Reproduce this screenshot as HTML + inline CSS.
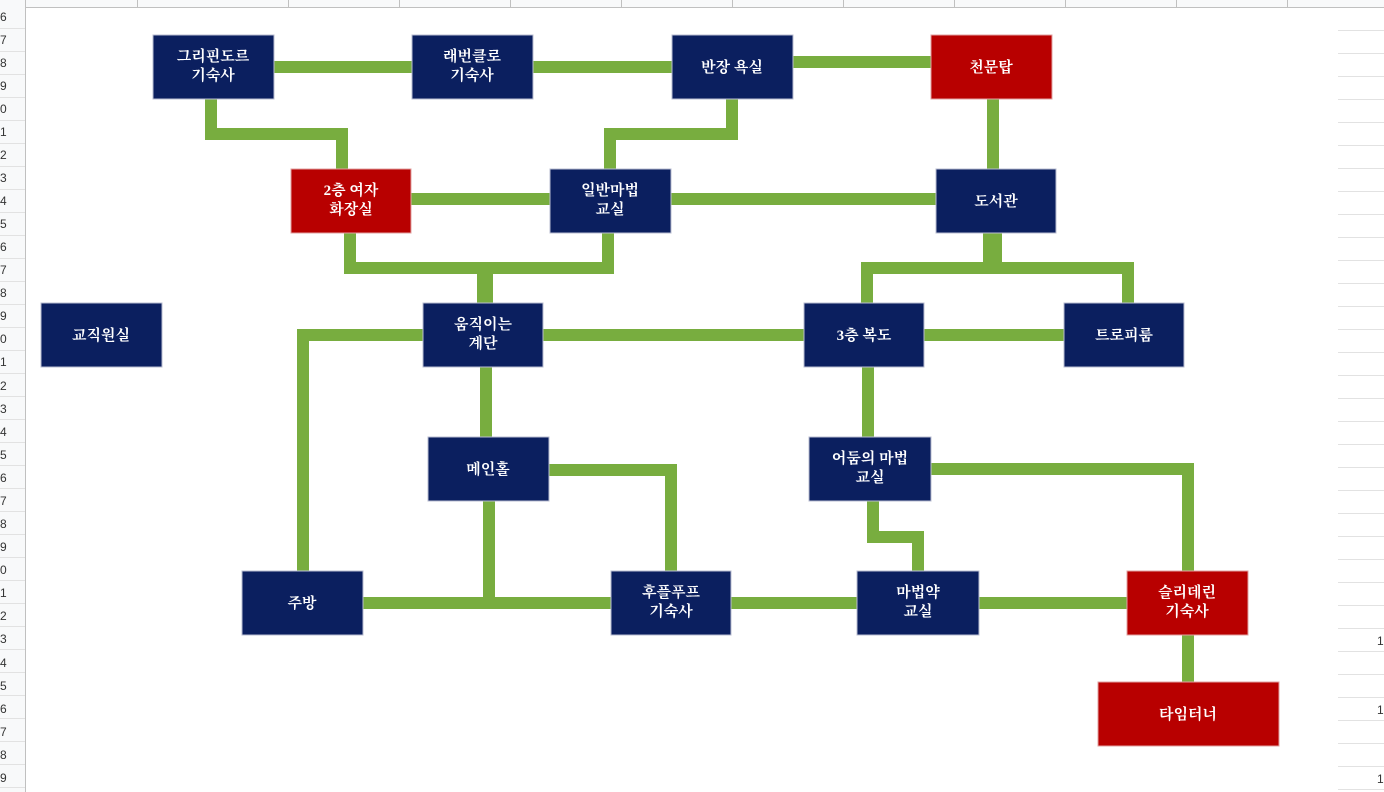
<!DOCTYPE html>
<html><head><meta charset="utf-8"><style>
html,body{margin:0;padding:0;background:#fff;width:1384px;height:792px;overflow:hidden}
svg{display:block}
.t{font-family:"Liberation Serif","Noto Serif CJK SC","Noto Sans CJK KR",serif;font-weight:bold;font-size:15px;fill:#fff;text-anchor:middle}
.r{font-family:"Liberation Sans",sans-serif;font-size:12px;fill:#333}
</style></head><body>
<svg width="1384" height="792" viewBox="0 0 1384 792" xmlns="http://www.w3.org/2000/svg">
<!-- spreadsheet chrome -->
<rect x="0" y="0" width="1384" height="7" fill="#f8f9fa"/>
<line x1="0" y1="7.5" x2="1384" y2="7.5" stroke="#c0c0c0"/>
<rect x="0" y="7" width="25" height="785" fill="#f8f9fa"/>
<line x1="25.5" y1="0" x2="25.5" y2="792" stroke="#c0c0c0"/>
<g stroke="#c0c0c0">
<line x1="137.5" y1="0" x2="137.5" y2="7"/><line x1="288.5" y1="0" x2="288.5" y2="7"/><line x1="399.5" y1="0" x2="399.5" y2="7"/><line x1="510.5" y1="0" x2="510.5" y2="7"/><line x1="621.5" y1="0" x2="621.5" y2="7"/><line x1="732.5" y1="0" x2="732.5" y2="7"/><line x1="843.5" y1="0" x2="843.5" y2="7"/><line x1="954.5" y1="0" x2="954.5" y2="7"/><line x1="1065.5" y1="0" x2="1065.5" y2="7"/><line x1="1176.5" y1="0" x2="1176.5" y2="7"/><line x1="1287.5" y1="0" x2="1287.5" y2="7"/>
</g>
<g id="rows"></g>
<g class="r">
<text x="0" y="21">6</text><text x="0" y="44">7</text><text x="0" y="67">8</text><text x="0" y="90">9</text><text x="0" y="113">0</text><text x="0" y="136">1</text><text x="0" y="159">2</text><text x="0" y="182">3</text><text x="0" y="205">4</text><text x="0" y="228">5</text><text x="0" y="251">6</text><text x="0" y="274">7</text><text x="0" y="297">8</text><text x="0" y="320">9</text><text x="0" y="343">0</text><text x="0" y="366">1</text><text x="0" y="390">2</text><text x="0" y="413">3</text><text x="0" y="436">4</text><text x="0" y="459">5</text><text x="0" y="482">6</text><text x="0" y="505">7</text><text x="0" y="528">8</text><text x="0" y="551">9</text><text x="0" y="574">0</text><text x="0" y="597">1</text><text x="0" y="620">2</text><text x="0" y="643">3</text><text x="0" y="667">4</text><text x="0" y="690">5</text><text x="0" y="713">6</text><text x="0" y="736">7</text><text x="0" y="759">8</text><text x="0" y="782">9</text>
<text x="1377" y="645">1</text><text x="1377" y="714">1</text><text x="1377" y="783">1</text>
</g>
<g stroke="#e2e2e2">
<path d="M0 28.5H25M0 51.5H25M0 74.5H25M0 97.5H25M0 120.5H25M0 143.5H25M0 166.5H25M0 189.5H25M0 212.5H25M0 235.5H25M0 258.5H25M0 281.5H25M0 304.5H25M0 327.5H25M0 350.5H25M0 373.5H25M0 396.5H25M0 419.5H25M0 442.5H25M0 465.5H25M0 488.5H25M0 511.5H25M0 534.5H25M0 557.5H25M0 580.5H25M0 603.5H25M0 626.5H25M0 649.5H25M0 672.5H25M0 695.5H25M0 718.5H25M0 741.5H25M0 764.5H25M0 787.5H25"/>
<path d="M1338 30.5H1384M1338 53.5H1384M1338 76.5H1384M1338 99.5H1384M1338 122.5H1384M1338 145.5H1384M1338 168.5H1384M1338 191.5H1384M1338 214.5H1384M1338 237.5H1384M1338 260.5H1384M1338 283.5H1384M1338 306.5H1384M1338 329.5H1384M1338 352.5H1384M1338 375.5H1384M1338 398.5H1384M1338 421.5H1384M1338 444.5H1384M1338 467.5H1384M1338 490.5H1384M1338 513.5H1384M1338 536.5H1384M1338 559.5H1384M1338 582.5H1384M1338 605.5H1384M1338 628.5H1384M1338 651.5H1384M1338 674.5H1384M1338 697.5H1384M1338 720.5H1384M1338 743.5H1384M1338 766.5H1384M1338 789.5H1384"/>
</g>
<!-- connectors -->
<g stroke="#78ad3f" stroke-width="12" fill="none" stroke-linejoin="miter" stroke-linecap="square">
<path d="M274 67H412"/><path d="M533 67H672"/><path d="M793 62H931"/>
<path d="M211 99V134H342V169"/>
<path d="M732 99V134H610V169"/>
<path d="M993 99V169"/>
<path d="M411 199H550"/><path d="M671 199H936"/>
<path d="M350 233V268H608V233"/>
<path d="M867 303V268H1128V303"/>
<path d="M543 335H804"/><path d="M924 335H1064"/>
<path d="M423 335H303V571"/>
<path d="M486 367V437"/>
<path d="M549 470H671V571"/>
<path d="M489 501V603"/>
<path d="M363 603H611"/><path d="M731 603H857"/><path d="M978 603H1127"/>
<path d="M868 367V437"/>
<path d="M873 501V537H918V571"/>
<path d="M930 469H1188V571"/>
<path d="M1188 635V682"/>
</g>
<rect x="477" y="268" width="16" height="35" fill="#78ad3f"/>
<rect x="983" y="233" width="19" height="35" fill="#78ad3f"/>
<!-- boxes -->
<g stroke="#b8bcd0" stroke-width="1">
<rect x="153" y="35" width="121" height="64" fill="#0b1f5f"/>
<rect x="412" y="35" width="121" height="64" fill="#0b1f5f"/>
<rect x="672" y="35" width="121" height="64" fill="#0b1f5f"/>
<rect x="931" y="35" width="121" height="64" fill="#b80000" stroke="#e0a0a0"/>
<rect x="291" y="169" width="120" height="64" fill="#b80000" stroke="#e0a0a0"/>
<rect x="550" y="169" width="121" height="64" fill="#0b1f5f"/>
<rect x="936" y="169" width="120" height="64" fill="#0b1f5f"/>
<rect x="41" y="303" width="121" height="64" fill="#0b1f5f"/>
<rect x="423" y="303" width="120" height="64" fill="#0b1f5f"/>
<rect x="804" y="303" width="120" height="64" fill="#0b1f5f"/>
<rect x="1064" y="303" width="120" height="64" fill="#0b1f5f"/>
<rect x="428" y="437" width="121" height="64" fill="#0b1f5f"/>
<rect x="809" y="437" width="122" height="64" fill="#0b1f5f"/>
<rect x="242" y="571" width="121" height="64" fill="#0b1f5f"/>
<rect x="611" y="571" width="120" height="64" fill="#0b1f5f"/>
<rect x="857" y="571" width="122" height="64" fill="#0b1f5f"/>
<rect x="1127" y="571" width="121" height="64" fill="#b80000" stroke="#e0a0a0"/>
<rect x="1098" y="682" width="181" height="64" fill="#b80000" stroke="#e0a0a0"/>
</g>
<g class="t">
<text x="213" y="61">그리핀도르</text><text x="213" y="80">기숙사</text>
<text x="472" y="61">래번클로</text><text x="472" y="80">기숙사</text>
<text x="732" y="72">반장 욕실</text>
<text x="991" y="72">천문탑</text>
<text x="351" y="195">2층 여자</text><text x="351" y="214">화장실</text>
<text x="610" y="195">일반마법</text><text x="610" y="214">교실</text>
<text x="996" y="206">도서관</text>
<text x="101" y="340">교직원실</text>
<text x="483" y="329">움직이는</text><text x="483" y="348">계단</text>
<text x="864" y="340">3층 복도</text>
<text x="1124" y="340">트로피룸</text>
<text x="488" y="474">메인홀</text>
<text x="870" y="463">어둠의 마법</text><text x="870" y="482">교실</text>
<text x="302" y="608">주방</text>
<text x="671" y="597">후플푸프</text><text x="671" y="616">기숙사</text>
<text x="918" y="597">마법약</text><text x="918" y="616">교실</text>
<text x="1187" y="597">슬리데린</text><text x="1187" y="616">기숙사</text>
<text x="1188" y="719">타임터너</text>
</g>
</svg>
</body></html>
